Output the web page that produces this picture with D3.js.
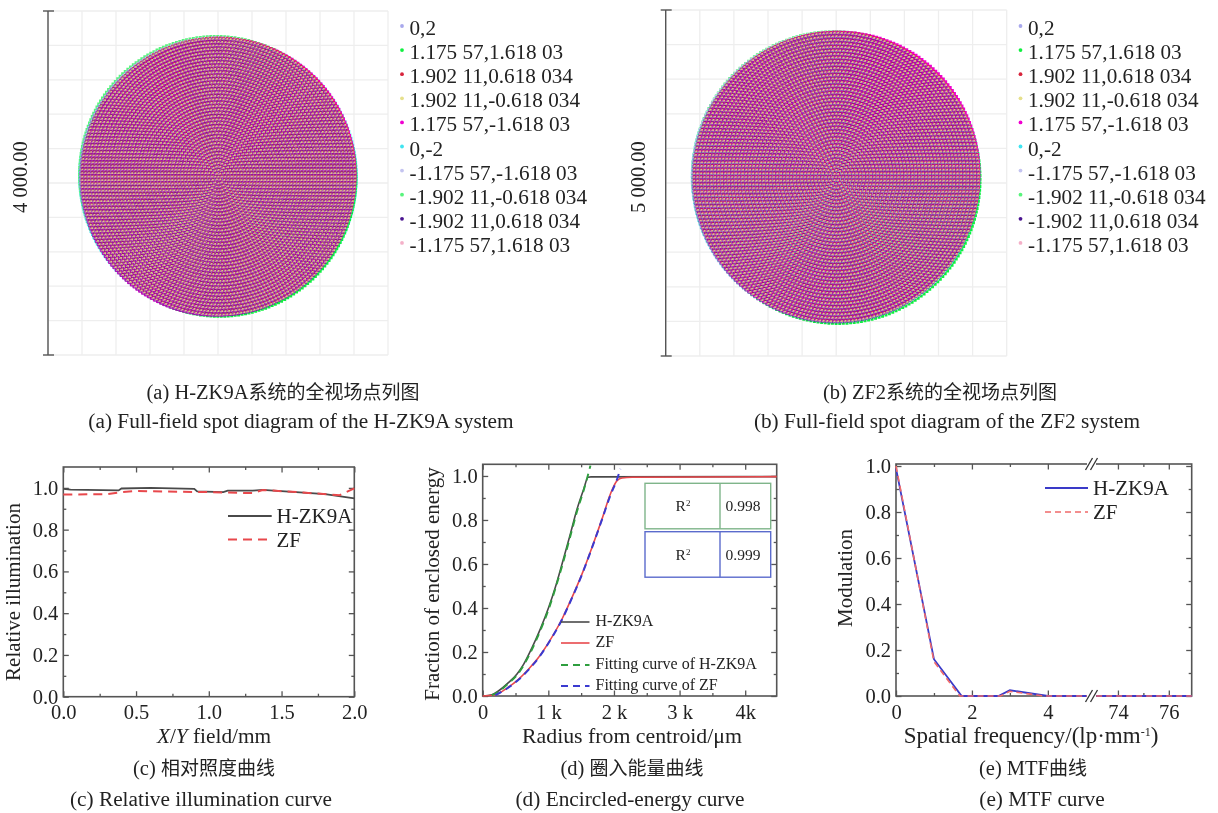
<!DOCTYPE html>
<html><head><meta charset="utf-8">
<script src="https://cdn.jsdelivr.net/npm/d3@7"></script>
<style>
html,body{margin:0;padding:0;background:#fff}
svg{display:block;filter:blur(0.3px)}
text{font-family:"Liberation Serif","Noto Sans CJK SC",serif;fill:#222}
</style></head><body>
<svg id="c" width="1218" height="813"></svg>
<script>
// ---------- data ----------
const fieldLabels = ["0,2","1.175 57,1.618 03","1.902 11,0.618 034","1.902 11,-0.618 034","1.175 57,-1.618 03","0,-2","-1.175 57,-1.618 03","-1.902 11,-0.618 034","-1.902 11,0.618 034","-1.175 57,1.618 03"];
const fieldColors = ["#a8a8ec","#10f040","#d8243c","#e6e08c","#f000d0","#40e4f0","#c4c4f0","#58f47c","#4a1490","#f4b0c8"];
// Spot-diagram discs: the radius and each field's shift / shear / stretch are estimated from the rim colours.
// The ray lattice itself (hexapolar rings) is an illustrative texture, NOT values read from the picture.
const spotRadiusA = 1605, spotRadiusB = 2085, spotRings = 41;
const drawOrder = [5,1,7,0,6,4,2,8,9,3];
const dotSize   = [2.6,2.9,2.6,1.7,3.0,3.0,2.6,2.9,3.2,1.6];
const dotOpacity= [1,1,.8,.85,1,1,1,1,.5,.6];
const shiftXA = [-8, 18, 6, 8, 8, 0, -6, -24, -6, -8];
const shiftYA = [8, -20, 8, 0, -6, 0, 10, 24, -8, -6];
const shearA  = [0, 0, 0, 0, 0.018, 0, 0, 0, 0, 0];
const stretchXA = [1.004, 1, 1, 1, 1, 1.014, 1, 1, 1, 1];
const shiftXB = [6, 30, 8, 10, 14, 0, -8, -18, -6, -8];
const shiftYB = [-8, -32, 8, 0, 8, 0, 10, 16, -10, -6];
const shearB  = [0, 0, 0, 0, 0.016, 0, 0, 0, 0, 0];
const stretchXB = [1, 1, 1, 1, 1, 1.010, 1.006, 1, 1, 1];

const illumX  = [0,.05,.38,.40,.60,.90,.92,1.10,1.13,1.30,1.37,1.60,1.80,2.0];
const illumH  = [.995,.992,.988,.997,1.0,.995,.983,.980,.987,.987,.990,.980,.970,.950];
const illumZX = [0,.30,.40,.50,.90,1.0,1.30,1.37,1.60,1.90,2.0];
const illumZ  = [.968,.970,.980,.985,.980,.980,.975,.990,.980,.965,.998];

const energyHX = [0,140,244,396,523,625,752,879,1006,1107,1209,1321,1438,1539,1605,1650,4480];
const energyHY = [0,.006,.024,.062,.10,.145,.22,.305,.403,.494,.60,.72,.85,.94,.994,.996,.997];
const energyFHX = [140,244,396,523,625,752,879,1006,1107,1209,1321,1438,1539,1600,1641];
const energyFHY = [.004,.02,.058,.095,.14,.212,.298,.395,.488,.59,.71,.84,.935,1.0,1.047];
const energyZX = [0,193,371,549,701,853,1006,1209,1361,1514,1666,1819,1946,2047,2123,2276,4480];
const energyZY = [0,.006,.036,.077,.123,.176,.244,.35,.448,.555,.676,.805,.918,.979,.991,.994,.997];
const energyFZX = [193,371,549,701,853,1006,1209,1361,1514,1666,1819,1946,2047,2098];
const energyFZY = [.004,.034,.075,.12,.174,.242,.348,.446,.553,.674,.803,.912,.985,1.032];

const mtfHX = [0,1,1.73,2.7,3,4,5.15,73,76.9];
const mtfHY = [.99,.16,0,0,.025,0,0,0,0];
const mtfZX = [0,1,1.68,2.75,3,3.9,5.15,73,76.9];
const mtfZY = [1.0,.15,0,0,.02,0,0,0,0];

const legendNames = ["H-ZK9A","ZF"];
const energyNames = ["H-ZK9A","ZF","Fitting curve of H-ZK9A","Fitting curve of ZF"];
const r2Values = ["0.998","0.999"];
const captionsZh = ["(a) H-ZK9A系统的全视场点列图","(b) ZF2系统的全视场点列图","(c) 相对照度曲线","(d) 圈入能量曲线","(e) MTF曲线"];
const captionsEn = ["(a) Full-field spot diagram of the H-ZK9A system","(b) Full-field spot diagram of the ZF2 system","(c) Relative illumination curve","(d) Encircled-energy curve","(e) MTF curve"];

// ---------- drawing ----------
const svg = d3.select("#c");
svg.append("defs").append("filter").attr("id","soft").attr("x","-5%").attr("y","-5%").attr("width","110%").attr("height","110%")
   .append("feGaussianBlur").attr("stdDeviation",0.45);
const root = svg.append("g");
const AX = "#555";

function spot(o){
  const g = root.append("g");
  const x = d3.scaleLinear().domain([-o.half,o.half]).range([o.x0,o.x1]);
  const y = d3.scaleLinear().domain([-o.half,o.half]).range([o.y1,o.y0]);
  const grid = d3.range(-o.half,o.half+1,o.half/5);
  g.selectAll(".gx").data(grid).join("line").attr("x1",d=>x(d)).attr("x2",d=>x(d)).attr("y1",o.y0).attr("y2",o.y1).attr("stroke","#eeeeee").attr("stroke-width",1.3);
  g.selectAll(".gy").data(grid).join("line").attr("x1",o.x0).attr("x2",o.x1).attr("y1",d=>y(d)).attr("y2",d=>y(d)).attr("stroke","#eeeeee").attr("stroke-width",1.3);
  const spots = g.append("g").attr("filter","url(#soft)");
  drawOrder.forEach(f=>{
    const p = d3.path();
    const s = dotSize[f];
    const rx = o.radius*o.sx[f], ry = o.radius;
    for(let i=0;i<=spotRings;i++){
      const n = Math.max(1,6*i);
      for(let j=0;j<n;j++){
        const t = 2*Math.PI*j/n;
        const ux = rx*i/spotRings*Math.cos(t), uy = ry*i/spotRings*Math.sin(t);
        const px = x(o.cx + o.dx[f] + ux + o.shear[f]*uy);
        const py = y(o.cy + o.dy[f] + uy);
        p.rect(px-s/2,py-s/2,s,s);
      }
    }
    spots.append("path").attr("d",p.toString()).attr("fill",fieldColors[f]).attr("fill-opacity",dotOpacity[f]);
  });
  g.append("line").attr("x1",o.x0).attr("x2",o.x0).attr("y1",o.y0).attr("y2",o.y1).attr("stroke",AX).attr("stroke-width",1.4);
  [o.y0,o.y1].forEach(v=>g.append("line").attr("x1",o.x0-5).attr("x2",o.x0+6).attr("y1",v).attr("y2",v).attr("stroke",AX).attr("stroke-width",1.4));
  g.append("text").attr("transform",`translate(${o.x0-21},${(o.y0+o.y1)/2-6}) rotate(-90)`).attr("text-anchor","middle").attr("font-size",20.5).text(o.label);
  fieldLabels.forEach((t,i)=>{
    const yy = o.ly + i*24.1;
    g.append("circle").attr("cx",o.lx-7.5).attr("cy",yy-9).attr("r",1.9).attr("fill",fieldColors[i]);
    g.append("text").attr("x",o.lx).attr("y",yy).attr("font-size",21.2).text(t);
  });
}
spot({half:2000,x0:48,x1:388,y0:11,y1:355,radius:spotRadiusA,cx:0,cy:75,dx:shiftXA,dy:shiftYA,sx:stretchXA,shear:shearA,label:"4 000.00",lx:409.5,ly:35});
spot({half:2500,x0:665.7,x1:1006.7,y0:10,y1:356,radius:spotRadiusB,cx:-5,cy:87,dx:shiftXB,dy:shiftYB,sx:stretchXB,shear:shearB,label:"5 000.00",lx:1028,ly:35});

function frame(o){
  const g = root.append("g");
  const x=o.x, y=o.y;
  const [L,R]=[o.L,o.R],[T,B]=[o.T,o.B];
  const style = a=>{a.select(".domain").remove();a.selectAll("line").attr("stroke",AX).attr("stroke-width",1.3);a.selectAll("text").attr("font-size",20.5).attr("fill","#222").attr("font-family",'"Liberation Serif",serif');};
  const minor=(sel,ax,vals)=>{sel.call(ax.tickValues(vals).tickSize(-3).tickFormat("")).call(style);};
  const ax=(fn,scale,ticks,fmt,pad)=>fn(scale).tickValues(ticks).tickSize(-5.5).tickPadding(pad).tickFormat(fmt);
  g.append("g").attr("transform",`translate(0,${B})`).call(ax(d3.axisBottom,x,o.xTicks,o.xFmt,8)).call(style);
  g.append("g").attr("transform",`translate(${L},0)`).call(ax(d3.axisLeft,y,o.yTicks,o.yFmt,5)).call(style);
  g.append("g").attr("transform",`translate(0,${T})`).call(ax(d3.axisTop,x,o.xTicks,"",0)).call(style);
  g.append("g").attr("transform",`translate(${R},0)`).call(ax(d3.axisRight,y,o.yTicks,"",0)).call(style);
  minor(g.append("g").attr("transform",`translate(0,${B})`),d3.axisBottom(x),o.xMinor);
  minor(g.append("g").attr("transform",`translate(0,${T})`),d3.axisTop(x),o.xMinor);
  minor(g.append("g").attr("transform",`translate(${L},0)`),d3.axisLeft(y),o.yMinor);
  minor(g.append("g").attr("transform",`translate(${R},0)`),d3.axisRight(y),o.yMinor);
  g.append("rect").attr("x",L).attr("y",T).attr("width",R-L).attr("height",B-T).attr("fill","none").attr("stroke",AX).attr("stroke-width",1.6);
  return g;
}
function curve(g,x,y,xs,ys,color,w,dash,smooth){
  const line=d3.line().x(i=>x(xs[i])).y(i=>y(ys[i]));
  if(smooth) line.curve(d3.curveMonotoneX);
  g.append("path").attr("d",line(d3.range(xs.length))).attr("fill","none").attr("stroke",color).attr("stroke-width",w).attr("stroke-dasharray",dash||null);
}
function legend(g,x0,x1,lx,yy,name,color,w,dash,fs,dy){
  g.append("line").attr("x1",x0).attr("x2",x1).attr("y1",yy).attr("y2",yy).attr("stroke",color).attr("stroke-width",w).attr("stroke-dasharray",dash||null);
  g.append("text").attr("x",lx).attr("y",yy+dy).attr("font-size",fs).text(name);
}
function ylabel(cx,cy,t){root.append("text").attr("transform",`translate(${cx},${cy}) rotate(-90)`).attr("text-anchor","middle").attr("font-size",21).text(t);}
const f1=d3.format(".1f");

// (c)
{
  const L=63.3,R=354.3,T=467,B=696.7;
  const x=d3.scaleLinear().domain([0,2]).range([L,R]), y=d3.scaleLinear().domain([0,1.1]).range([B,T]);
  const g=frame({x,y,L,R,T,B,xTicks:[0,.5,1,1.5,2],xFmt:f1,yTicks:[0,.2,.4,.6,.8,1],yFmt:f1,xMinor:[.25,.75,1.25,1.75],yMinor:[.1,.3,.5,.7,.9]});
  curve(g,x,y,illumX,illumH,"#4a4a4a",1.8);
  curve(g,x,y,illumZX,illumZ,"#e8484c",2,"9 6");
  legend(g,228,271.7,276.5,516,legendNames[0],"#4a4a4a",1.8,null,21,7);
  legend(g,228,271.7,276.5,539.5,legendNames[1],"#e8484c",2,"9 6",21,7);
  ylabel(20,592,"Relative illumination");
  const t=root.append("text").attr("x",214).attr("y",743).attr("text-anchor","middle").attr("font-size",21.3);
  t.append("tspan").attr("font-style","italic").text("X");t.append("tspan").text("/");t.append("tspan").attr("font-style","italic").text("Y");t.append("tspan").text(" field/mm");
}
// (d)
{
  const L=482.7,R=776.7,T=464.3,B=696;
  const x=d3.scaleLinear().domain([0,4480]).range([L,R]), y=d3.scaleLinear().domain([0,1.053]).range([B,T]);
  const lab={0:"0",1000:"1 k",2000:"2 k",3000:"3 k",4000:"4k"};
  const g=frame({x,y,L,R,T,B,xTicks:[0,1000,2000,3000,4000],xFmt:d=>lab[d],yTicks:[0,.2,.4,.6,.8,1],yFmt:f1,xMinor:[500,1500,2500,3500],yMinor:[.1,.3,.5,.7,.9]});
  curve(g,x,y,energyHX,energyHY,"#4a4a4a",1.6,null,true);
  curve(g,x,y,energyZX,energyZY,"#e8484c",1.6,null,true);
  curve(g,x,y,energyFHX,energyFHY,"#2e9e3e",1.9,"7 5",true);
  curve(g,x,y,energyFZX,energyFZY,"#3a3ad0",2,"7 5",true);
  const cols=["#4a4a4a","#e8484c","#2e9e3e","#3a3ad0"], ys=[622,643,665,686];
  energyNames.forEach((n,i)=>legend(g,561,589.5,595.5,ys[i],n,cols[i],i>1?2:1.6,i>1?"7 5":null,16,4));
  const boxes=[{y:483.3,c:"#7fb58a"},{y:531.7,c:"#5b6bcc"}];
  boxes.forEach((b,i)=>{
    g.append("rect").attr("x",645).attr("y",b.y).attr("width",125.7).attr("height",45.5).attr("fill","#fff").attr("stroke",b.c).attr("stroke-width",1.4);
    g.append("line").attr("x1",720).attr("x2",720).attr("y1",b.y).attr("y2",b.y+45.5).attr("stroke",b.c).attr("stroke-width",1.4);
    const rt=g.append("text").attr("x",683).attr("y",b.y+28).attr("text-anchor","middle").attr("font-size",15.5).attr("fill","#444");
    rt.append("tspan").text("R");rt.append("tspan").attr("font-size",9).attr("dy",-5).text("2");
    g.append("text").attr("x",743).attr("y",b.y+28).attr("text-anchor","middle").attr("font-size",15.5).attr("fill","#444").text(r2Values[i]);
  });
  ylabel(439,584,"Fraction of enclosed energy");
  root.append("text").attr("x",632).attr("y",743).attr("text-anchor","middle").attr("font-size",21.8).text("Radius from centroid/μm");
}
// (e)
{
  const L=896,R=1191.7,T=464,B=696;
  const x=d3.scaleLinear().domain([0,5.15,73,76.9]).range([L,1091.5,1092.5,R]), y=d3.scaleLinear().domain([0,1.0087]).range([B,T]);
  const g=frame({x,y,L,R,T,B,xTicks:[0,2,4,74,76],xFmt:d=>d,yTicks:[0,.2,.4,.6,.8,1],yFmt:f1,xMinor:[1,3,75],yMinor:[.1,.3,.5,.7,.9]});
  curve(g,x,y,mtfHX,mtfHY,"#3a3ac8",1.8);
  curve(g,x,y,mtfZX,mtfZY,"#f06a6a",1.6,"6 4");
  [T,B].forEach(v=>{
    g.append("rect").attr("x",1087).attr("y",v-2).attr("width",9).attr("height",4).attr("fill","#fff");
    [-2.5,2.5].forEach(d=>g.append("line").attr("x1",1091.5+d-3.5).attr("x2",1091.5+d+3.5).attr("y1",v+6).attr("y2",v-6).attr("stroke","#333").attr("stroke-width",1.3));
  });
  legend(g,1045,1088,1093,488,legendNames[0],"#3a3ac8",1.8,null,21,7);
  legend(g,1045,1088,1093,512,legendNames[1],"#f06a6a",1.6,"6 4",21,7);
  ylabel(852,578,"Modulation");
  const t=root.append("text").attr("x",1031).attr("y",743).attr("text-anchor","middle").attr("font-size",23);
  t.append("tspan").text("Spatial frequency/(lp·mm");t.append("tspan").attr("font-size",12).attr("dy",-7).text("-1");t.append("tspan").attr("dy",7).text(")");
}
// captions: Latin runs at one size, CJK runs slightly smaller, as in the reference
const capZhX=[283,940,204,632,1033], capEnX=[301,947,201,630,1042], capZ=[399,399,775,775,775], capE=[428,428,806,806,806];
captionsZh.forEach((t,i)=>{
  const el=root.append("text").attr("x",capZhX[i]).attr("y",capZ[i]).attr("text-anchor","middle").attr("font-size",20.5);
  t.split(/([\u4e00-\u9fff]+)/).filter(Boolean).forEach(run=>{
    el.append("tspan").attr("font-size",/[\u4e00-\u9fff]/.test(run)?19:20.5).text(run);
  });
});
captionsEn.forEach((t,i)=>root.append("text").attr("x",capEnX[i]).attr("y",capE[i]).attr("text-anchor","middle").attr("font-size",21.3).text(t));
</script>
</body></html>
